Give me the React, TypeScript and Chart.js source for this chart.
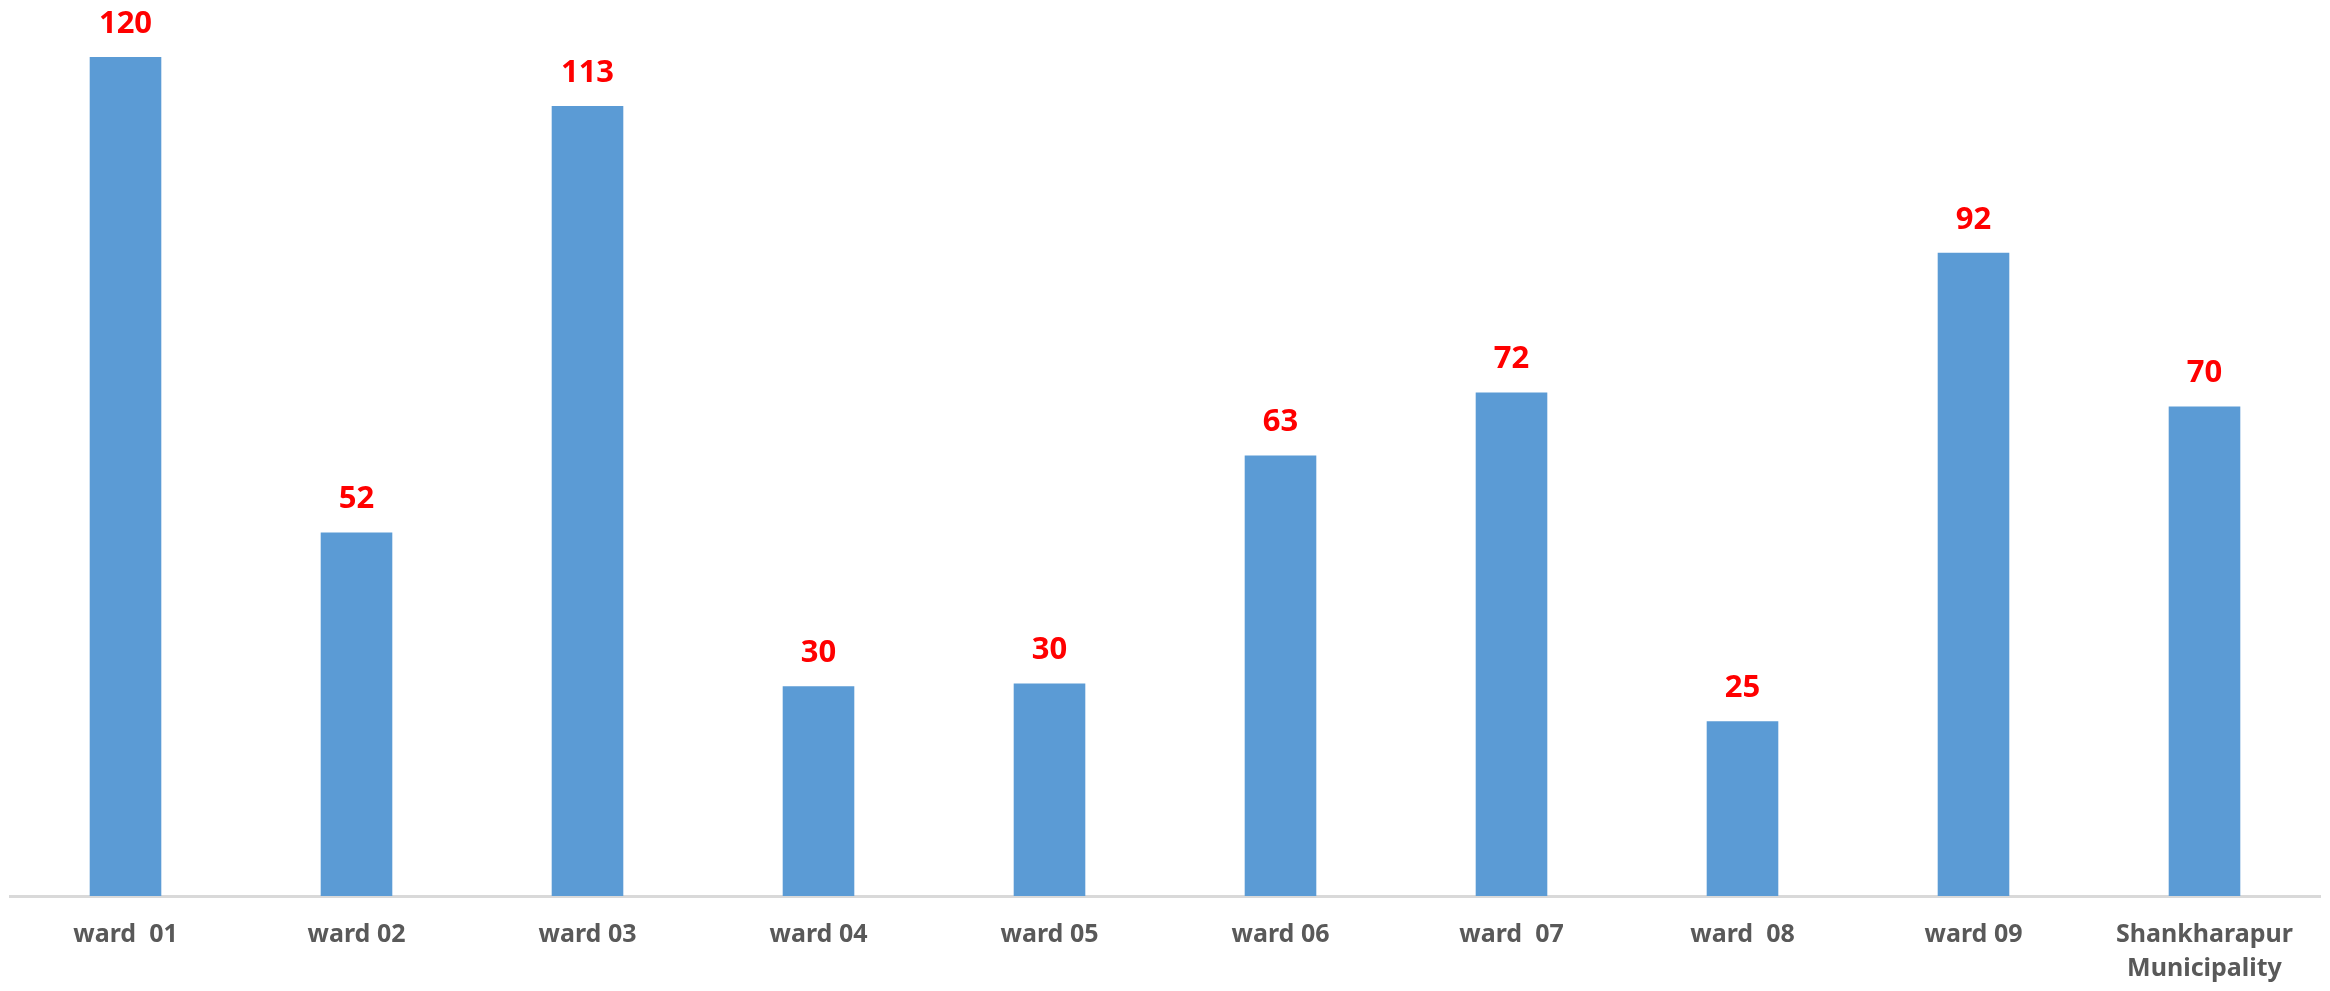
import React, { useEffect, useRef } from "react";
import { Chart, registerables } from "chart.js";

Chart.register(...registerables);

const categories: (string | string[])[] = [
  "ward  01",
  "ward 02",
  "ward 03",
  "ward 04",
  "ward 05",
  "ward 06",
  "ward  07",
  "ward  08",
  "ward 09",
  ["Shankharapur", "Municipality"],
];

const values: number[] = [120, 52, 113, 30, 30.4, 63, 72, 25, 92, 70];

const BAR_COLOR = "#5b9bd5";
const LABEL_COLOR = "#ff0000";
const AXIS_TEXT = "#595959";
const FONT = "'Noto Sans', 'Open Sans', sans-serif";

const valueLabels = {
  id: "valueLabels",
  afterDatasetsDraw(chart: any) {
    const ctx = chart.ctx;
    const meta = chart.getDatasetMeta(0);
    ctx.save();
    ctx.fillStyle = LABEL_COLOR;
    ctx.font = `bold 31px ${FONT}`;
    ctx.textAlign = "center";
    ctx.textBaseline = "middle";
    meta.data.forEach((el: any, i: number) => {
      const v = chart.data.datasets[0].data[i] as number;
      ctx.fillText(String(Math.round(v)), el.x, el.y - 33);
    });
    ctx.restore();
  },
};

export default function App() {
  const ref = useRef<HTMLCanvasElement | null>(null);

  useEffect(() => {
    if (!ref.current) return;
    const chart = new Chart(ref.current, {
      type: "bar",
      data: {
        labels: categories,
        datasets: [
          {
            data: values,
            backgroundColor: BAR_COLOR,
            borderWidth: 0,
            barPercentage: 0.62,
            categoryPercentage: 0.5,
          },
        ],
      },
      options: {
        responsive: false,
        animation: false,
        devicePixelRatio: 1,
        layout: { padding: { left: 10, right: 10, top: 57, bottom: 0 } },
        plugins: {
          legend: { display: false },
          tooltip: { enabled: false },
        },
        scales: {
          x: {
            grid: { display: false, drawTicks: false },
            border: { display: true, color: "#d9d9d9", width: 3 },
            ticks: {
              color: AXIS_TEXT,
              font: { family: FONT, size: 25, weight: "bold", lineHeight: 1.35 },
              padding: 22,
              maxRotation: 0,
              autoSkip: false,
            },
            afterFit: (scale: any) => {
              scale.height = 95;
            },
          },
          y: {
            display: false,
            min: 0,
            max: 120,
          },
        },
      },
      plugins: [valueLabels],
    });
    return () => chart.destroy();
  }, []);

  return (
    <div style={{ position: "absolute", left: 0, top: 0, width: 2330, height: 991, background: "#ffffff" }}>
      <canvas ref={ref} width={2330} height={991} style={{ display: "block" }} />
    </div>
  );
}
